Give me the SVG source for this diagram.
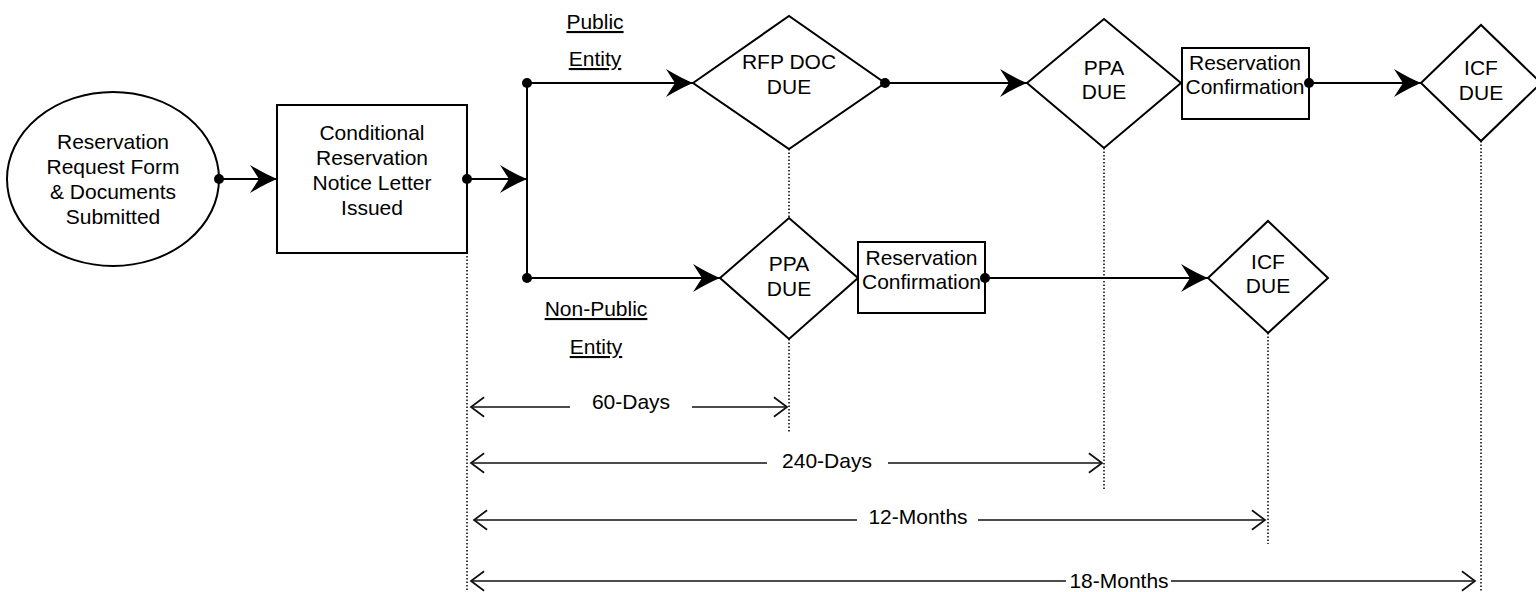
<svg xmlns="http://www.w3.org/2000/svg" width="1536" height="592" viewBox="0 0 1536 592">
<defs>
<style>
text{font-family:"Liberation Sans",Arial,sans-serif;font-size:21px;fill:#000;text-anchor:middle}
.shape{fill:#fff;stroke:#000;stroke-width:2}
.conn{fill:none;stroke:#000;stroke-width:2}
.dim{fill:none;stroke:#111;stroke-width:1.6}
.dot{fill:#000}
.dotted{fill:none;stroke:#000;stroke-width:1.5;stroke-dasharray:1.5 2}
.ul{text-decoration:underline}
</style>
<marker id="ah" markerWidth="32" markerHeight="32" viewBox="-29 -16 31 32" refX="0" refY="0" orient="auto" markerUnits="userSpaceOnUse">
<path d="M0,0 Q-12,-5 -27,-14 L-18,0 L-27,14 Q-12,5 0,0 Z" fill="#000"/>
</marker>
<marker id="open" markerWidth="20" markerHeight="24" viewBox="-14 -11 16 22" refX="0" refY="0" orient="auto-start-reverse" markerUnits="userSpaceOnUse">
<path d="M-12,-9 L0,0 L-12,9" fill="none" stroke="#111" stroke-width="1.6"/>
</marker>
</defs>

<g id="guides">
<line class="dotted" x1="467" y1="256" x2="467" y2="592"/>
<line class="dotted" x1="789" y1="149" x2="789" y2="218"/>
<line class="dotted" x1="789" y1="339" x2="789" y2="433"/>
<line class="dotted" x1="1104" y1="148" x2="1104" y2="490"/>
<line class="dotted" x1="1268" y1="333" x2="1268" y2="544"/>
<line class="dotted" x1="1481" y1="141" x2="1481" y2="592"/>
</g>

<g id="connectors">
<line class="conn" x1="219" y1="179" x2="277" y2="179" marker-end="url(#ah)"/>
<line class="conn" x1="467" y1="179" x2="527" y2="179" marker-end="url(#ah)"/>
<line class="conn" x1="527" y1="83" x2="527" y2="278"/>
<line class="conn" x1="527" y1="83" x2="693" y2="83" marker-end="url(#ah)"/>
<line class="conn" x1="527" y1="278" x2="720" y2="278" marker-end="url(#ah)"/>
<line class="conn" x1="885" y1="83" x2="1027" y2="83" marker-end="url(#ah)"/>
<line class="conn" x1="1309" y1="83" x2="1421" y2="83" marker-end="url(#ah)"/>
<line class="conn" x1="985" y1="278" x2="1208" y2="278" marker-end="url(#ah)"/>
</g>

<g id="labels">
<text class="ul" x="595" y="29">Public</text>
<text class="ul" x="595" y="66">Entity</text>
<text class="ul" x="596" y="316">Non-Public</text>
<text class="ul" x="596" y="354">Entity</text>
</g>

<g id="n-request">
<ellipse class="shape" cx="113" cy="179" rx="106" ry="87"/>
<text x="113" y="149">Reservation</text>
<text x="113" y="174">Request Form</text>
<text x="113" y="199">&amp; Documents</text>
<text x="113" y="224">Submitted</text>
</g>

<g id="n-conditional">
<rect class="shape" x="277" y="105" width="190" height="148"/>
<text x="372" y="140">Conditional</text>
<text x="372" y="165">Reservation</text>
<text x="372" y="190">Notice Letter</text>
<text x="372" y="215">Issued</text>
</g>

<g id="n-rfp">
<polygon class="shape" points="693,83 789,16 885,83 789,149"/>
<text x="789" y="69">RFP DOC</text>
<text x="789" y="94">DUE</text>
</g>

<g id="n-ppa-top">
<polygon class="shape" points="1027,83 1104,19 1181,83 1104,148"/>
<text x="1104" y="75">PPA</text>
<text x="1104" y="99">DUE</text>
</g>

<g id="n-resconf-top">
<rect class="shape" x="1182" y="48" width="127" height="71"/>
<text x="1245" y="70">Reservation</text>
<text x="1245" y="94">Confirmation</text>
</g>

<g id="n-icf-top">
<polygon class="shape" points="1421,83 1481,25 1541,83 1481,141"/>
<text x="1481" y="75">ICF</text>
<text x="1481" y="100">DUE</text>
</g>

<g id="n-ppa-low">
<polygon class="shape" points="720,278 789,218 858,278 789,339"/>
<text x="789" y="271">PPA</text>
<text x="789" y="296">DUE</text>
</g>

<g id="n-resconf-low">
<rect class="shape" x="858" y="242" width="127" height="71"/>
<text x="921.5" y="265">Reservation</text>
<text x="921.5" y="289">Confirmation</text>
</g>

<g id="n-icf-low">
<polygon class="shape" points="1208,278 1268,221 1328,278 1268,333"/>
<text x="1268" y="269">ICF</text>
<text x="1268" y="293">DUE</text>
</g>

<g id="connector-dots">
<circle class="dot" cx="219" cy="179" r="5"/>
<circle class="dot" cx="467" cy="179" r="5"/>
<circle class="dot" cx="527" cy="83" r="5"/>
<circle class="dot" cx="527" cy="278" r="5"/>
<circle class="dot" cx="885" cy="83" r="5"/>
<circle class="dot" cx="1309" cy="83" r="5"/>
<circle class="dot" cx="985" cy="278" r="5"/>
</g>

<g id="dimensions">
<line class="dim" x1="471" y1="407" x2="570" y2="407" marker-start="url(#open)"/>
<line class="dim" x1="692" y1="407" x2="787" y2="407" marker-end="url(#open)"/>
<text x="631" y="409">60-Days</text>
<line class="dim" x1="471" y1="463" x2="767" y2="463" marker-start="url(#open)"/>
<line class="dim" x1="888" y1="463" x2="1102" y2="463" marker-end="url(#open)"/>
<text x="827" y="468">240-Days</text>
<line class="dim" x1="474" y1="520" x2="857" y2="520" marker-start="url(#open)"/>
<line class="dim" x1="978" y1="520" x2="1265" y2="520" marker-end="url(#open)"/>
<text x="918" y="524">12-Months</text>
<line class="dim" x1="471" y1="581" x2="1066" y2="581" marker-start="url(#open)"/>
<line class="dim" x1="1171" y1="581" x2="1475" y2="581" marker-end="url(#open)"/>
<text x="1119" y="588">18-Months</text>
</g>
</svg>
